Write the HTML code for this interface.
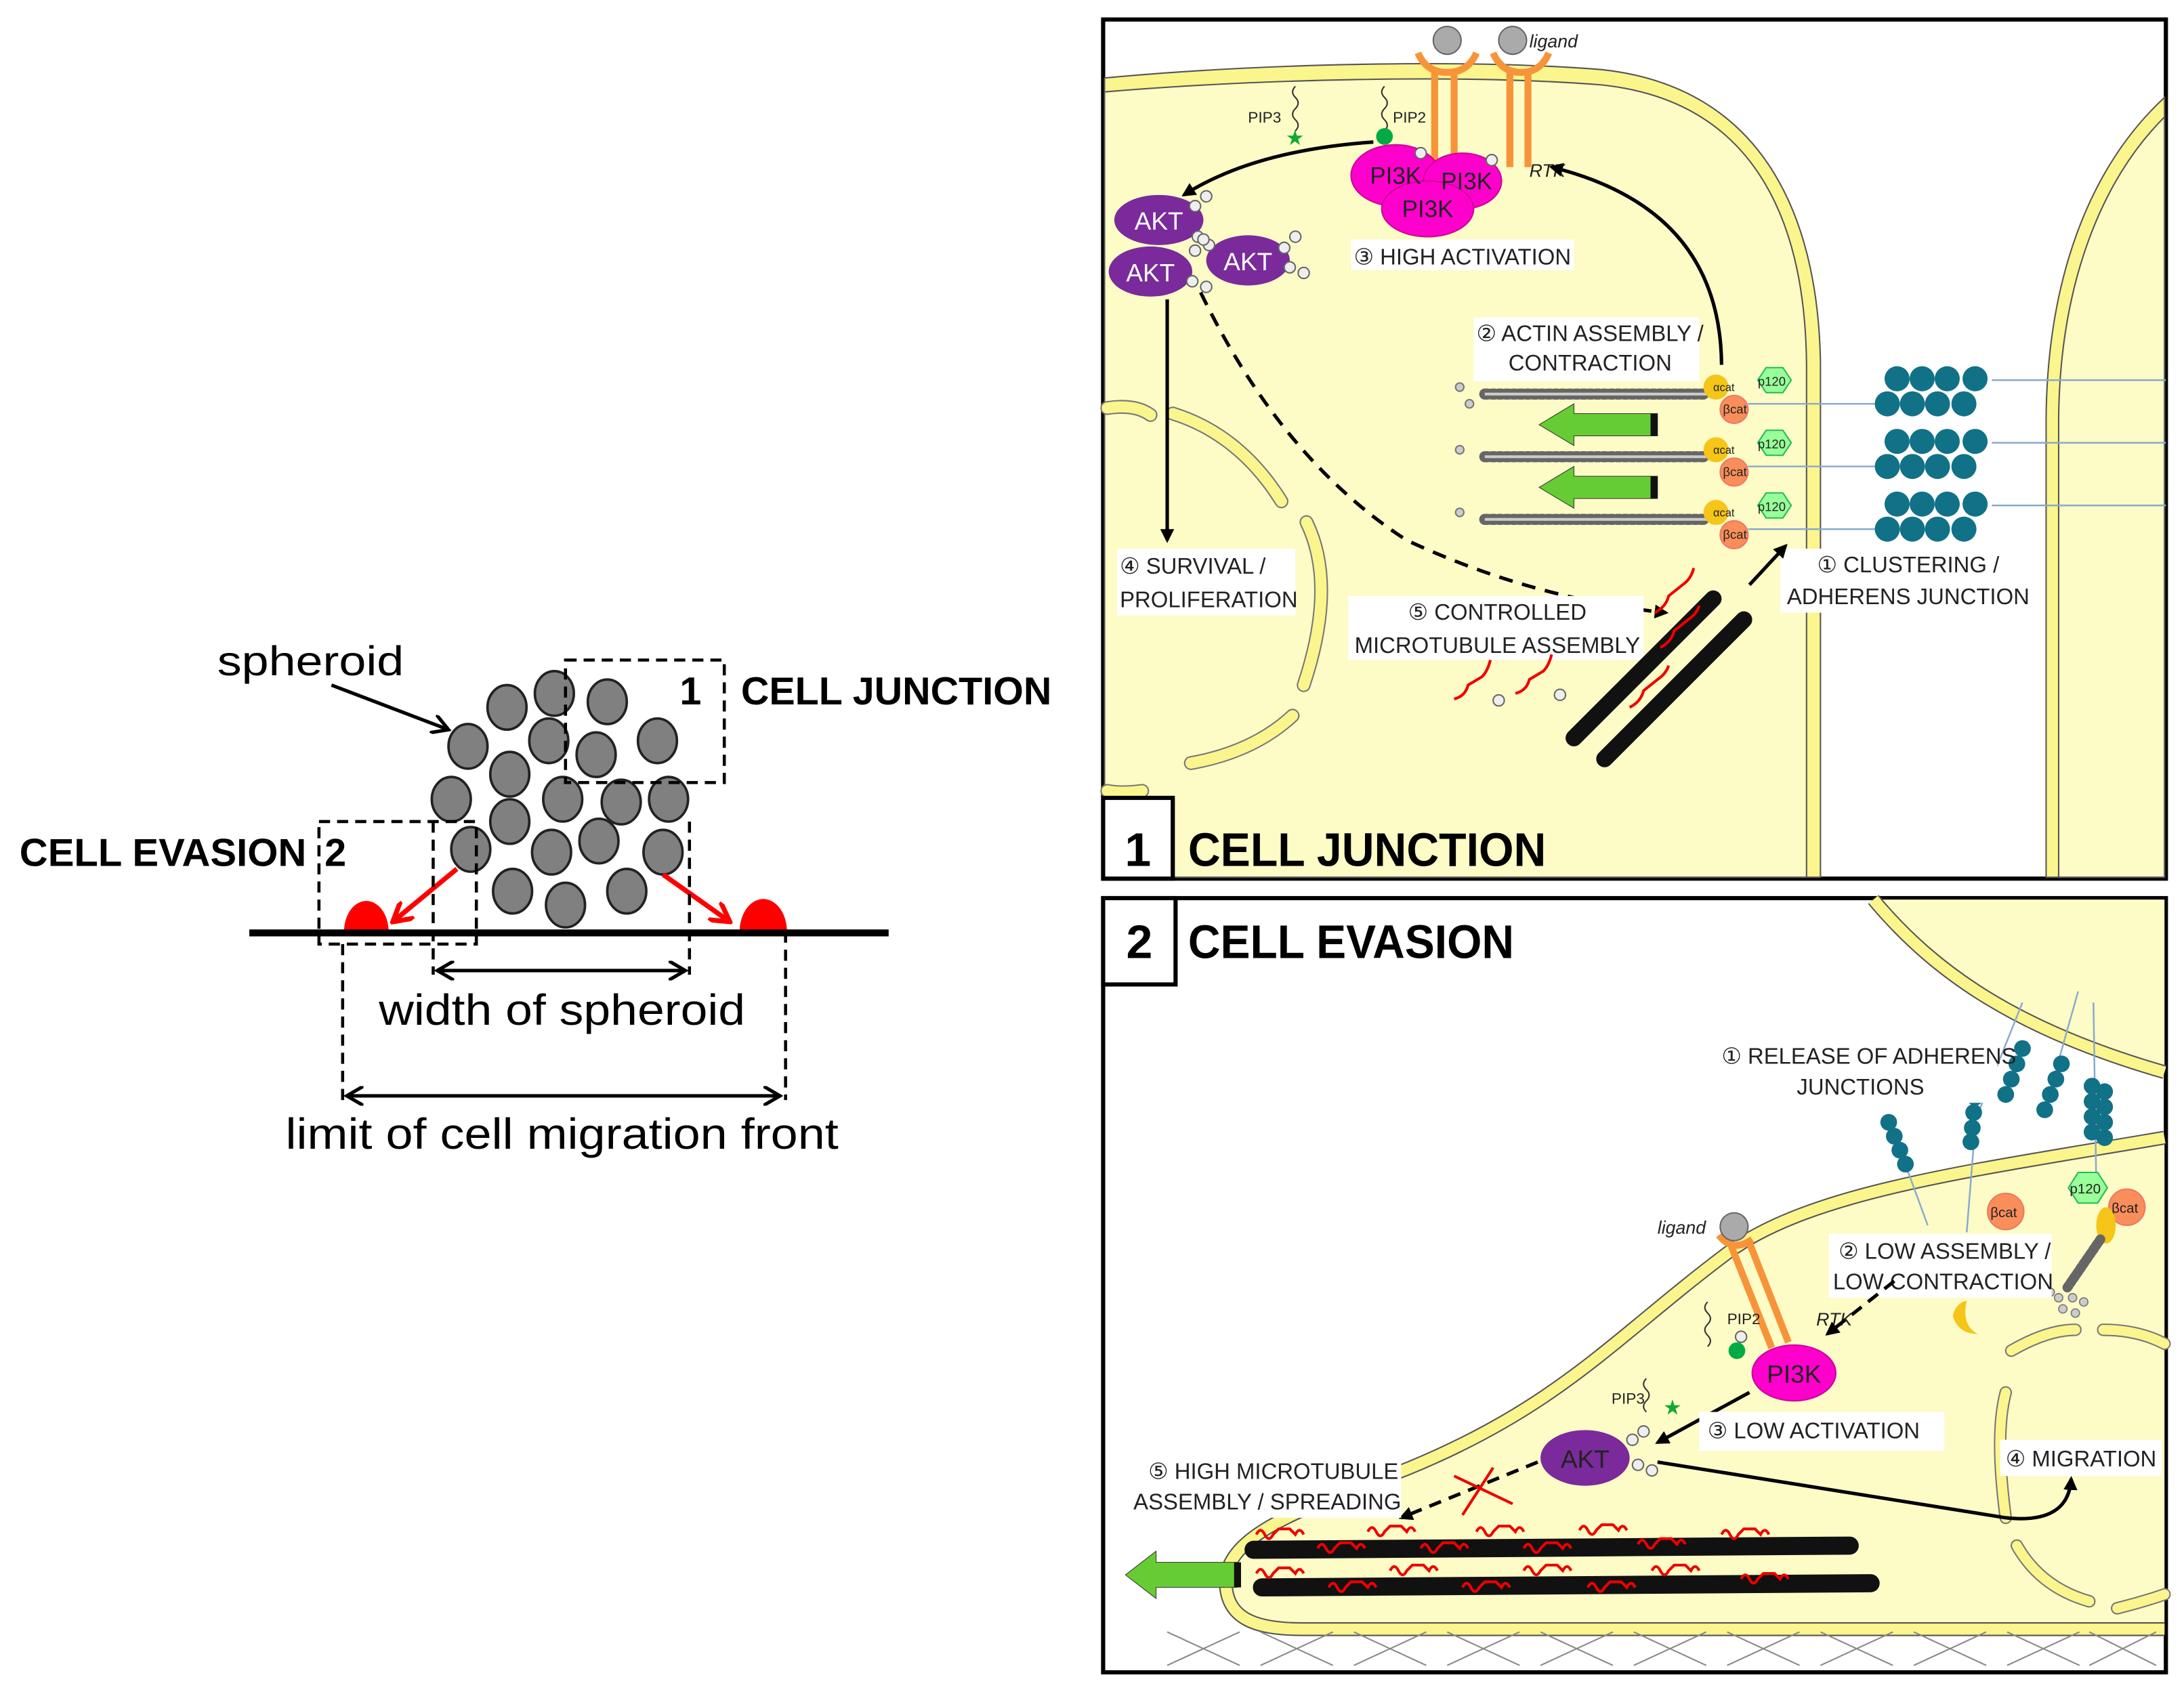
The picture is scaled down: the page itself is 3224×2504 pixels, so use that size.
<!DOCTYPE html>
<html><head><meta charset="utf-8"><style>
html,body{margin:0;padding:0;background:#fff;width:3224px;height:2504px;overflow:hidden}
svg{display:block}
.l{font-family:"Liberation Sans Narrow","Liberation Sans",sans-serif;fill:#222}
.b{font-family:"Liberation Sans Narrow","Liberation Sans",sans-serif;font-weight:bold;fill:#000}
.a{font-family:"Liberation Sans",sans-serif;fill:#000}
</style></head><body>
<svg width="3224" height="2504" viewBox="0 0 1568 1218" preserveAspectRatio="none" xmlns="http://www.w3.org/2000/svg">
<defs>
<marker id="ah" markerWidth="10" markerHeight="10" refX="8" refY="5" orient="auto" markerUnits="userSpaceOnUse"><path d="M0,0 L10,5 L0,10 Z" fill="#000"/></marker>
<marker id="oa" markerWidth="14" markerHeight="14" refX="12" refY="7" orient="auto" markerUnits="userSpaceOnUse"><path d="M0,0 L12,7 L0,14" fill="none" stroke="#000" stroke-width="2.5"/></marker>
<marker id="oas" markerWidth="14" markerHeight="14" refX="2" refY="7" orient="auto" markerUnits="userSpaceOnUse"><path d="M14,0 L2,7 L14,14" fill="none" stroke="#000" stroke-width="2.5"/></marker>
<marker id="ra" markerWidth="16" markerHeight="16" refX="14" refY="8" orient="auto" markerUnits="userSpaceOnUse"><path d="M0,0 L14,8 L0,16" fill="none" stroke="#f00" stroke-width="3.5"/></marker>
<g id="p"><circle r="4" fill="#eee" stroke="#666" stroke-width="1"/></g>
<g id="sq"><path d="M0,0 q3,-6 6,0 q3,6 6,0 l4,-4 h8 l4,4 q3,-6 6,0" fill="none" stroke="#e00" stroke-width="2"/></g>
</defs>

<!-- LEFT DIAGRAM -->
<text class="a" x="156" y="485" font-size="30" textLength="134" lengthAdjust="spacingAndGlyphs">spheroid</text>
<line x1="238" y1="492" x2="322" y2="524" stroke="#000" stroke-width="2.5" marker-end="url(#oa)"/>
<g fill="#808080" stroke="#222" stroke-width="1.8">
<ellipse cx="364" cy="508" rx="14" ry="16"/><ellipse cx="398" cy="498" rx="14" ry="16"/><ellipse cx="436" cy="504" rx="14" ry="16"/>
<ellipse cx="336" cy="536" rx="14" ry="16"/><ellipse cx="394" cy="532" rx="14" ry="16"/><ellipse cx="428" cy="542" rx="14" ry="16"/><ellipse cx="472" cy="532" rx="14" ry="16"/>
<ellipse cx="366" cy="556" rx="14" ry="16"/>
<ellipse cx="324" cy="574" rx="14" ry="16"/><ellipse cx="404" cy="574" rx="14" ry="16"/><ellipse cx="446" cy="576" rx="14" ry="16"/><ellipse cx="480" cy="574" rx="14" ry="16"/>
<ellipse cx="366" cy="590" rx="14" ry="16"/>
<ellipse cx="338" cy="610" rx="14" ry="16"/><ellipse cx="396" cy="612" rx="14" ry="16"/><ellipse cx="430" cy="604" rx="14" ry="16"/><ellipse cx="476" cy="612" rx="14" ry="16"/>
<ellipse cx="368" cy="640" rx="14" ry="16"/><ellipse cx="406" cy="650" rx="14" ry="16"/><ellipse cx="450" cy="640" rx="14" ry="16"/>
</g>
<path d="M247,669 A16,22 0 0 1 279,669 Z" fill="#f00"/>
<path d="M531,669 A16,22 0 0 1 565,669 Z" fill="#f00"/>
<line x1="328" y1="624" x2="282" y2="662" stroke="#f00" stroke-width="3.5" marker-end="url(#ra)"/>
<line x1="476" y1="628" x2="524" y2="662" stroke="#f00" stroke-width="3.5" marker-end="url(#ra)"/>
<line x1="179" y1="670" x2="638" y2="670" stroke="#000" stroke-width="5"/>
<g fill="none" stroke="#000" stroke-width="2.2" stroke-dasharray="8,5">
<rect x="406" y="474" width="114" height="88"/>
<rect x="229" y="590" width="113" height="88"/>
<line x1="311" y1="590" x2="311" y2="700"/>
<line x1="495" y1="590" x2="495" y2="700"/>
<line x1="246" y1="678" x2="246" y2="790"/>
<line x1="564" y1="669" x2="564" y2="790"/>
</g>
<line x1="314" y1="697" x2="492" y2="697" stroke="#000" stroke-width="2.5" marker-start="url(#oas)" marker-end="url(#oa)"/>
<line x1="249" y1="787" x2="560" y2="787" stroke="#000" stroke-width="2.5" marker-start="url(#oas)" marker-end="url(#oa)"/>
<text class="a" x="272" y="736" font-size="31" textLength="263" lengthAdjust="spacingAndGlyphs">width of spheroid</text>
<text class="a" x="205" y="825" font-size="31" textLength="397" lengthAdjust="spacingAndGlyphs">limit of cell migration front</text>
<text class="b" x="488" y="506" font-size="28">1</text>
<text class="b" x="532" y="506" font-size="28" textLength="223" lengthAdjust="spacingAndGlyphs">CELL JUNCTION</text>
<text class="b" x="14" y="622" font-size="28" textLength="206" lengthAdjust="spacingAndGlyphs">CELL EVASION</text>
<text class="b" x="233" y="622" font-size="28">2</text>

<!-- PANEL 1 -->
<rect x="792" y="14" width="763" height="617" fill="#fff" stroke="#000" stroke-width="3"/>
<path d="M793,56 C900,46 1050,42 1150,50 C1262,62 1305,150 1307,260 L1307,630 L793,630 Z" fill="#fbf58e" stroke="#555" stroke-width="1"/>
<path d="M793,66 C900,57 1050,53 1150,61 C1255,72 1296,152 1297,262 L1297,630 L793,630 Z" fill="#fdfbc6" stroke="#555" stroke-width="1"/>
<path d="M1554,70 C1500,120 1470,200 1469,300 L1469,630 L1554,630 Z" fill="#fbf58e" stroke="#555" stroke-width="1"/>
<path d="M1554,84 C1508,130 1479,205 1478,300 L1478,630 L1554,630 Z" fill="#fdfbc6" stroke="#555" stroke-width="1"/>
<!-- nucleus -->
<g fill="none" stroke="#777" stroke-width="10" stroke-linecap="round">
<path d="M795,293 Q815,290 826,298"/><path d="M842,297 Q890,312 920,360"/><path d="M938,375 Q960,420 936,492"/><path d="M928,514 Q900,540 855,548"/><path d="M795,568 Q805,570 820,568"/>
</g>
<g fill="none" stroke="#fbf58e" stroke-width="8" stroke-linecap="round">
<path d="M795,293 Q815,290 826,298"/><path d="M842,297 Q890,312 920,360"/><path d="M938,375 Q960,420 936,492"/><path d="M928,514 Q900,540 855,548"/><path d="M795,568 Q805,570 820,568"/>
</g>
<!-- receptors -->
<g fill="none" stroke="#f7943a" stroke-width="5">
<path d="M1018,38 Q1024,52 1039,52 Q1054,52 1060,38"/><line x1="1030" y1="52" x2="1030" y2="118"/><line x1="1044" y1="52" x2="1044" y2="118"/>
<path d="M1072,38 Q1078,52 1092,52 Q1106,52 1112,38"/><line x1="1084" y1="52" x2="1084" y2="120"/><line x1="1097" y1="52" x2="1097" y2="120"/>
</g>
<circle cx="1039" cy="29" r="10" fill="#aaa" stroke="#666"/><circle cx="1086" cy="29" r="10" fill="#aaa" stroke="#666"/>
<text class="l" x="1098" y="34" font-size="13" font-style="italic">ligand</text>
<text class="l" x="1098" y="127" font-size="13" font-style="italic">RTK</text>
<path d="M930,62 q-4,4 0,8 q4,4 0,8 q-4,4 0,8 q4,4 0,8" fill="none" stroke="#333" stroke-width="1"/>
<path d="M994,62 q-4,4 0,8 q4,4 0,8 q-4,4 0,8 q4,4 0,8" fill="none" stroke="#333" stroke-width="1"/>
<text class="l" x="896" y="88" font-size="11">PIP3</text><text class="l" x="1000" y="88" font-size="11">PIP2</text>
<text x="923" y="104" font-size="15" fill="#1a3">★</text>
<circle cx="994" cy="98" r="6" fill="#0a4"/>
<path d="M986,102 Q900,108 850,140" fill="none" stroke="#000" stroke-width="2.5" marker-end="url(#ah)"/>
<g fill="#f0c" stroke="#c09" stroke-width="1"><ellipse cx="1002" cy="126" rx="32" ry="22"/><ellipse cx="1050" cy="130" rx="28" ry="20"/><ellipse cx="1025" cy="150" rx="33" ry="20"/></g>
<text class="l" x="1002" y="132" font-size="17" text-anchor="middle" fill="#000">PI3K</text>
<text class="l" x="1053" y="136" font-size="17" text-anchor="middle" fill="#000">PI3K</text>
<text class="l" x="1025" y="156" font-size="17" text-anchor="middle" fill="#000">PI3K</text>
<use href="#p" x="1020" y="110"/><use href="#p" x="1071" y="115"/>
<path d="M1236,262 Q1235,150 1114,120" fill="none" stroke="#000" stroke-width="2.5" marker-end="url(#ah)"/>
<rect x="970" y="172" width="160" height="22" fill="#fff"/>
<text class="l" x="972" y="190" font-size="16">③ HIGH ACTIVATION</text>
<g fill="#7a2a9a"><ellipse cx="832" cy="158" rx="32" ry="18"/><ellipse cx="826" cy="195" rx="30" ry="18"/><ellipse cx="896" cy="187" rx="30" ry="18"/></g>
<g class="l" font-size="18" fill="#fff" text-anchor="middle"><text x="832" y="165" fill="#fff">AKT</text><text x="826" y="202" fill="#fff">AKT</text><text x="896" y="194" fill="#fff">AKT</text></g>
<use href="#p" x="858" y="148"/><use href="#p" x="866" y="141"/><use href="#p" x="860" y="170"/><use href="#p" x="868" y="176"/><use href="#p" x="858" y="180"/><use href="#p" x="864" y="172"/><use href="#p" x="856" y="202"/><use href="#p" x="866" y="206"/><use href="#p" x="922" y="178"/><use href="#p" x="930" y="170"/><use href="#p" x="926" y="192"/><use href="#p" x="936" y="196"/>
<line x1="838" y1="215" x2="838" y2="388" stroke="#000" stroke-width="2.5" marker-end="url(#ah)"/>
<path d="M862,210 Q920,330 1010,388 Q1100,430 1196,440" fill="none" stroke="#000" stroke-width="2.5" stroke-dasharray="10,7" marker-end="url(#ah)"/>
<rect x="802" y="394" width="128" height="48" fill="#fff"/>
<text class="l" x="804" y="412" font-size="16">④ SURVIVAL /</text><text class="l" x="804" y="436" font-size="16">PROLIFERATION</text>
<rect x="1058" y="228" width="162" height="46" fill="#fff"/>
<text class="l" x="1060" y="245" font-size="16">② ACTIN ASSEMBLY /</text><text class="l" x="1083" y="266" font-size="16">CONTRACTION</text>
<rect x="968" y="428" width="212" height="46" fill="#fff"/>
<text class="l" x="1075" y="445" font-size="16" text-anchor="middle">⑤ CONTROLLED</text><text class="l" x="1075" y="469" font-size="16" text-anchor="middle">MICROTUBULE ASSEMBLY</text>
<rect x="1278" y="394" width="182" height="46" fill="#fff"/>
<text class="l" x="1370" y="411" font-size="16" text-anchor="middle">① CLUSTERING /</text><text class="l" x="1370" y="434" font-size="16" text-anchor="middle">ADHERENS JUNCTION</text>
<line x1="1256" y1="420" x2="1282" y2="392" stroke="#000" stroke-width="2.5" marker-end="url(#ah)"/>
<!-- actin rows -->
<g id="row">
<line x1="1066" y1="283" x2="1226" y2="283" stroke="#666" stroke-width="8" stroke-dasharray="2,3" stroke-linecap="round"/>
<line x1="1066" y1="283" x2="1226" y2="283" stroke="#ccc" stroke-width="2"/>
<circle cx="1232" cy="278" r="9" fill="#f5c518"/><circle cx="1245" cy="294" r="10" fill="#f98e5a" stroke="#e76"/>
<text class="l" x="1230" y="281" font-size="8">αcat</text><text class="l" x="1237" y="297" font-size="9">βcat</text>
<polygon points="1262,273 1268,264 1280,264 1286,273 1280,282 1268,282" fill="#9f9" stroke="#2b5"/>
<text class="l" x="1262" y="277" font-size="9">p120</text>
<line x1="1255" y1="290" x2="1350" y2="290" stroke="#8ac" stroke-width="1.2"/><line x1="1430" y1="273" x2="1555" y2="273" stroke="#8ac" stroke-width="1.2"/>
<g fill="#117187"><circle cx="1362" cy="272" r="9"/><circle cx="1380" cy="272" r="9"/><circle cx="1398" cy="272" r="9"/><circle cx="1418" cy="272" r="9"/><circle cx="1355" cy="290" r="9"/><circle cx="1373" cy="290" r="9"/><circle cx="1391" cy="290" r="9"/><circle cx="1410" cy="290" r="9"/></g>
<circle cx="1048" cy="278" r="3" fill="#ccc" stroke="#777"/>
</g>
<use href="#row" y="45"/><use href="#row" y="90"/>
<circle cx="1055" cy="290" r="3" fill="#ccc" stroke="#777"/>
<g fill="#6c3" stroke="#333" stroke-width="0.5"><polygon points="1105,305 1130,290 1130,297 1190,297 1190,313 1130,313 1130,320"/><polygon points="1105,350 1130,335 1130,342 1190,342 1190,358 1130,358 1130,365"/></g>
<rect x="1185" y="297" width="5" height="16" fill="#111"/><rect x="1185" y="342" width="5" height="16" fill="#111"/>
<!-- microtubules -->
<g stroke="#111" stroke-width="12" stroke-linecap="round"><line x1="1230" y1="430" x2="1130" y2="530"/><line x1="1252" y1="445" x2="1152" y2="545"/></g>
<g fill="none" stroke="#e00" stroke-width="2"><path d="M1188,440 q8,-4 10,-12 l10,-8 q6,-4 8,-12"/><path d="M1192,465 q8,-4 10,-12 l10,-8 q6,-4 8,-10"/><path d="M1170,508 q8,-4 10,-12 l10,-8 q6,-4 8,-10"/><path d="M1044,502 q8,-2 10,-10 l10,-6 q4,-4 6,-12"/><path d="M1088,498 q8,-2 10,-10 l10,-6 q4,-4 6,-12"/></g>
<use href="#p" x="1076" y="503"/><use href="#p" x="1120" y="499"/>
<rect x="792" y="573" width="50" height="58" fill="#fff" stroke="#000" stroke-width="3"/>
<text class="b" x="817" y="622" font-size="34" text-anchor="middle">1</text>
<text class="b" x="853" y="622" font-size="34" textLength="257" lengthAdjust="spacingAndGlyphs">CELL JUNCTION</text>

<!-- PANEL 2 -->
<rect x="792" y="645" width="763" height="556" fill="#fff" stroke="#000" stroke-width="3"/>
<path d="M1345,646 C1390,700 1450,740 1554,770 L1554,646 Z" fill="#fdfbc6"/>
<path d="M1345,646 C1390,700 1450,740 1554,770" fill="none" stroke="#555" stroke-width="10"/>
<path d="M1345,646 C1390,700 1450,740 1554,770" fill="none" stroke="#fbf58e" stroke-width="8"/>
<path d="M1554,817 C1420,840 1300,855 1240,900 C1160,960 1120,1010 1010,1055 C940,1082 882,1100 880,1135 C880,1162 900,1170 935,1170 L1554,1170 Z" fill="#fdfbc6"/>
<path d="M1554,817 C1420,840 1300,855 1240,900 C1160,960 1120,1010 1010,1055 C940,1082 882,1100 880,1135 C880,1162 900,1170 935,1170 L1554,1170" fill="none" stroke="#555" stroke-width="10"/>
<path d="M1554,817 C1420,840 1300,855 1240,900 C1160,960 1120,1010 1010,1055 C940,1082 882,1100 880,1135 C880,1162 900,1170 935,1170 L1554,1170" fill="none" stroke="#fbf58e" stroke-width="8"/>
<!-- nucleus 2 -->
<g fill="none" stroke="#777" stroke-width="9" stroke-linecap="round">
<path d="M1444,970 Q1470,955 1490,955"/><path d="M1510,955 Q1535,955 1554,965"/><path d="M1440,1000 Q1432,1030 1440,1090"/><path d="M1448,1110 Q1465,1140 1500,1150"/><path d="M1520,1155 Q1540,1150 1554,1145"/>
</g>
<g fill="none" stroke="#fbf58e" stroke-width="7" stroke-linecap="round">
<path d="M1444,970 Q1470,955 1490,955"/><path d="M1510,955 Q1535,955 1554,965"/><path d="M1440,1000 Q1432,1030 1440,1090"/><path d="M1448,1110 Q1465,1140 1500,1150"/><path d="M1520,1155 Q1540,1150 1554,1145"/>
</g>
<!-- crosshatch -->
<g stroke="#888" stroke-width="1">
<path d="M838,1172 L890,1196 M838,1196 L890,1172 M905,1172 L957,1196 M905,1196 L957,1172 M972,1172 L1024,1196 M972,1196 L1024,1172 M1039,1172 L1091,1196 M1039,1196 L1091,1172 M1106,1172 L1158,1196 M1106,1196 L1158,1172 M1173,1172 L1225,1196 M1173,1196 L1225,1172 M1240,1172 L1292,1196 M1240,1196 L1292,1172 M1307,1172 L1359,1196 M1307,1196 L1359,1172 M1374,1172 L1426,1196 M1374,1196 L1426,1172 M1441,1172 L1493,1196 M1441,1196 L1493,1172 M1500,1172 L1548,1196 M1500,1196 L1548,1172"/>
</g>
<!-- cadherin strands -->
<g stroke="#8ac" stroke-width="1.2"><line x1="1452" y1="720" x2="1420" y2="800"/><line x1="1492" y1="712" x2="1470" y2="790"/><line x1="1503" y1="720" x2="1505" y2="850"/><line x1="1362" y1="820" x2="1384" y2="880"/><line x1="1418" y1="810" x2="1412" y2="885"/></g>
<g fill="#117187">
<circle cx="1440" cy="786" r="6"/><circle cx="1444" cy="775" r="6"/><circle cx="1448" cy="764" r="6"/><circle cx="1452" cy="753" r="6"/>
<circle cx="1468" cy="797" r="6"/><circle cx="1472" cy="786" r="6"/><circle cx="1476" cy="775" r="6"/><circle cx="1480" cy="764" r="6"/>
<circle cx="1502" cy="780" r="6"/><circle cx="1502" cy="791" r="6"/><circle cx="1502" cy="802" r="6"/><circle cx="1502" cy="813" r="6"/><circle cx="1511" cy="784" r="6"/><circle cx="1511" cy="795" r="6"/><circle cx="1511" cy="806" r="6"/><circle cx="1511" cy="817" r="6"/>
<circle cx="1418" cy="788" r="6"/><circle cx="1417" cy="799" r="6"/><circle cx="1416" cy="810" r="6"/><circle cx="1415" cy="820" r="6"/>
<circle cx="1356" cy="806" r="6"/><circle cx="1360" cy="816" r="6"/><circle cx="1364" cy="826" r="6"/><circle cx="1368" cy="836" r="6"/>
</g>
<circle cx="1440" cy="870" r="13" fill="#f98e5a" stroke="#e76"/><text class="l" x="1429" y="874" font-size="10">βcat</text>
<polygon points="1485,853 1492,842 1506,842 1513,853 1506,864 1492,864" fill="#9f9" stroke="#2b5"/><text class="l" x="1486" y="857" font-size="10">p120</text>
<circle cx="1527" cy="867" r="13" fill="#f98e5a" stroke="#e76"/><text class="l" x="1516" y="871" font-size="10">βcat</text>
<ellipse cx="1512" cy="880" rx="7" ry="13" fill="#f5c518"/>
<line x1="1508" y1="890" x2="1484" y2="925" stroke="#666" stroke-width="7" stroke-dasharray="2,2" stroke-linecap="round"/>
<g fill="#ccc" stroke="#777" stroke-width="0.8"><circle cx="1478" cy="932" r="3"/><circle cx="1488" cy="932" r="3"/><circle cx="1496" cy="935" r="3"/><circle cx="1490" cy="943" r="3"/><circle cx="1472" cy="928" r="3"/><circle cx="1481" cy="940" r="3"/></g>
<path d="M1412,934 Q1408,952 1420,958 Q1406,958 1402,945 Q1404,936 1412,934 Z" fill="#f5c518"/>
<rect x="1236" y="746" width="198" height="46" fill="#fff"/>
<text class="l" x="1236" y="764" font-size="16">① RELEASE OF ADHERENS</text><text class="l" x="1290" y="786" font-size="16">JUNCTIONS</text>
<rect x="1313" y="886" width="160" height="46" fill="#fff"/>
<text class="l" x="1320" y="904" font-size="16">② LOW ASSEMBLY /</text><text class="l" x="1316" y="926" font-size="16">LOW CONTRACTION</text>
<!-- receptor 2 -->
<g fill="none" stroke="#f7943a" stroke-width="5"><path d="M1234,887 Q1244,900 1258,890"/><line x1="1243" y1="895" x2="1272" y2="968"/><line x1="1255" y1="890" x2="1284" y2="964"/></g>
<circle cx="1245" cy="881" r="10" fill="#aaa" stroke="#666"/>
<text class="l" x="1190" y="886" font-size="13" font-style="italic">ligand</text>
<text class="l" x="1304" y="952" font-size="13" font-style="italic">RTK</text>
<use href="#p" x="1250" y="960"/>
<path d="M1226,935 q-4,4 0,8 q4,4 0,8 q-4,4 0,8 q4,4 0,8" fill="none" stroke="#333" stroke-width="1"/>
<circle cx="1247" cy="970" r="6" fill="#0a4"/>
<text class="l" x="1240" y="951" font-size="11">PIP2</text>
<path d="M1182,990 q-4,4 0,8 q4,4 0,8 q-4,4 0,8" fill="none" stroke="#333" stroke-width="1"/>
<text class="l" x="1157" y="1008" font-size="11">PIP3</text>
<text x="1194" y="1016" font-size="15" fill="#1a3">★</text>
<ellipse cx="1288" cy="986" rx="30" ry="20" fill="#f0c" stroke="#c09"/>
<text class="l" x="1288" y="993" font-size="18" text-anchor="middle" fill="#000">PI3K</text>
<path d="M1360,920 L1312,958" fill="none" stroke="#000" stroke-width="2.5" stroke-dasharray="9,6" marker-end="url(#ah)"/>
<line x1="1256" y1="1000" x2="1190" y2="1036" stroke="#000" stroke-width="2.5" marker-end="url(#ah)"/>
<rect x="1220" y="1014" width="176" height="28" fill="#fff"/>
<text class="l" x="1226" y="1033" font-size="16">③ LOW ACTIVATION</text>
<ellipse cx="1138" cy="1047" rx="32" ry="20" fill="#7a2a9a"/>
<text class="l" x="1138" y="1054" font-size="18" text-anchor="middle" fill="#fff">AKT</text>
<use href="#p" x="1172" y="1034"/><use href="#p" x="1180" y="1028"/><use href="#p" x="1176" y="1052"/><use href="#p" x="1186" y="1056"/>
<path d="M1190,1050 Q1380,1080 1440,1090 Q1485,1095 1487,1062" fill="none" stroke="#000" stroke-width="2.5" marker-end="url(#ah)"/>
<rect x="1436" y="1034" width="116" height="26" fill="#fff"/>
<text class="l" x="1440" y="1053" font-size="16">④ MIGRATION</text>
<path d="M1104,1050 L1006,1090" fill="none" stroke="#000" stroke-width="2.5" stroke-dasharray="9,6" marker-end="url(#ah)"/>
<g stroke="#e00" stroke-width="2"><line x1="1044" y1="1060" x2="1086" y2="1080"/><line x1="1050" y1="1088" x2="1072" y2="1054"/></g>
<rect x="822" y="1044" width="184" height="46" fill="#fff"/>
<text class="l" x="1004" y="1062" font-size="16" text-anchor="end">⑤ HIGH MICROTUBULE</text><text class="l" x="1006" y="1084" font-size="16" text-anchor="end">ASSEMBLY / SPREADING</text>
<!-- microtubules 2 -->
<g stroke="#111" stroke-width="13" stroke-linecap="round"><line x1="900" y1="1113" x2="1328" y2="1110"/><line x1="906" y1="1140" x2="1343" y2="1137"/></g>
<g>
<use href="#sq" x="902" y="1102"/><use href="#sq" x="946" y="1112"/><use href="#sq" x="982" y="1100"/><use href="#sq" x="1020" y="1112"/><use href="#sq" x="1060" y="1100"/><use href="#sq" x="1094" y="1112"/><use href="#sq" x="1134" y="1099"/><use href="#sq" x="1176" y="1109"/><use href="#sq" x="1236" y="1102"/>
<use href="#sq" x="902" y="1130"/><use href="#sq" x="954" y="1140"/><use href="#sq" x="998" y="1128"/><use href="#sq" x="1050" y="1140"/><use href="#sq" x="1094" y="1128"/><use href="#sq" x="1140" y="1140"/><use href="#sq" x="1186" y="1128"/><use href="#sq" x="1250" y="1134"/>
</g>
<polygon points="808,1131 830,1114 830,1122 888,1122 888,1140 830,1140 830,1148" fill="#6c3" stroke="#333" stroke-width="0.5"/>
<rect x="886" y="1122" width="5" height="18" fill="#111"/>
<rect x="792" y="645" width="52" height="62" fill="#fff" stroke="#000" stroke-width="3"/>
<text class="b" x="818" y="688" font-size="34" text-anchor="middle">2</text>
<text class="b" x="853" y="688" font-size="34" textLength="234" lengthAdjust="spacingAndGlyphs">CELL EVASION</text>
</svg>
</body></html>
